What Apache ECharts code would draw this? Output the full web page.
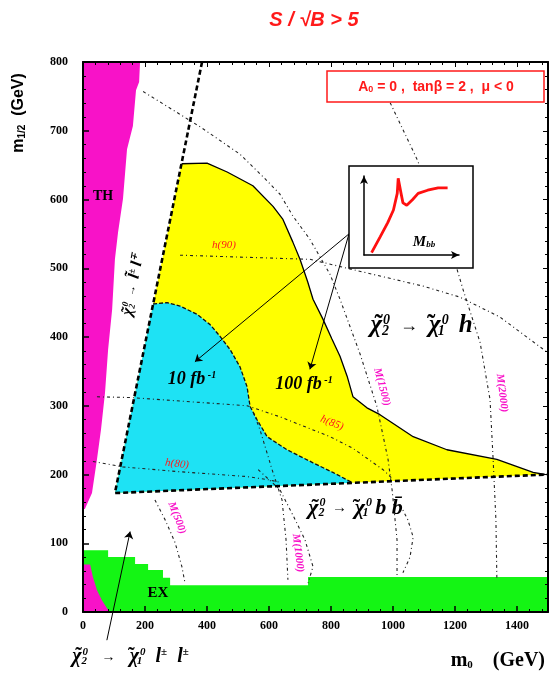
<!DOCTYPE html>
<html>
<head>
<meta charset="utf-8">
<script src="https://cdn.jsdelivr.net/npm/echarts@6/dist/echarts.min.js"></script>
<style>
  html, body { margin: 0; padding: 0; background: #fff; }
  #chart { width: 550px; height: 677px; }
</style>
</head>
<body>
<div id="chart"></div>
<script>
// ---- axes (GeV) ----
const xTickValues = [0, 200, 400, 600, 800, 1000, 1200, 1400];
const yTickValues = [0, 100, 200, 300, 400, 500, 600, 700, 800];
const m0Max = 1500;
const mHalfMax = 800;

// ---- excluded regions (m0, m1/2) ----
const thRegion = [[0,800],[184,800],[181,771],[171,759],[161,707],[142,673],[129,601],[113,552],[103,513],[94,440],[81,382],[71,319],[58,265],[45,222],[29,173],[16,160],[6,150],[0,150]];
const thCorner = [[0,0],[0,69],[23,69],[32,51],[45,32],[61,17],[81,3],[81,0]];
const exRegion = [[0,0],[0,90],[81,90],[81,80],[168,80],[168,70],[210,70],[210,61],[258,61],[258,50],[281,50],[281,39],[726,39],[726,51],[1500,51],[1500,0]];

// ---- 5 sigma reach ----
const reach100 = [[103,173],[318,652],[400,653],[465,640],[548,620],[613,590],[645,571],[677,538],[700,513],[725,480],[742,455],[774,426],[803,397],[829,372],[852,343],[871,313],[916,297],[958,287],[1065,255],[1174,236],[1335,222],[1452,203],[1490,200]];
const reach10 = [[103,173],[226,448],[271,450],[313,445],[368,433],[410,418],[442,401],[474,382],[506,357],[529,328],[539,299],[561,280],[594,255],[658,236],[742,217],[806,203],[870,188]];
const searchEdge = [[384,800],[103,173],[1500,200]];

// ---- light Higgs mass contours ----
const h90 = [[313,519],[732,513],[861,499],[1097,474],[1216,458],[1345,429],[1497,378]];
const h85 = [[45,313],[152,312],[529,300],[635,284],[797,255],[871,238],[968,207],[1000,193]];
const h80 = [[32,219],[129,211],[313,204],[529,197],[603,192],[640,188]];

// ---- kinematic / mass contours ----
const hThreshold = [[194,757],[377,706],[506,666],[581,633],[635,608],[677,576],[732,542],[797,491],[829,455],[894,375],[948,299],[984,222],[997,178],[1013,105],[1013,54]];
const m1500Arc = [[1023,156],[1048,134],[1065,109],[1055,80],[1032,57]];
const m1000Line = [[550,290],[571,265],[610,207],[642,163],[655,105],[661,47]];
const m1000Arc = [[565,207],[635,178],[677,141],[716,105],[742,66],[726,42]];
const m500Line = [[232,163],[265,134],[297,101],[319,66],[329,42]];
const m2000Line = [[977,754],[1077,659],[1168,557],[1226,469],[1281,392],[1313,309],[1323,222],[1332,134],[1335,50]];

// ---- pointer arrows ----
const arrowFrom = [858,550];
const arrowTo10 = [361,364];
const arrowTo100 = [732,353];
const dileptonFrom = [77,-41];
const dileptonTo = [152,117];

// ---- inset: M_bb spectrum sketch ----
const mbbX = [8,17,25,31,35,36,39,41,45,51,57,67,78,88];
const mbbY = [3,23,41,57,78,97,78,66,63,70,78,82,85,85];

const SERIF = 'Liberation Serif';
const SANS = 'Liberation Sans';
const MAGENTA = '#f812c8';
const RED = '#ff1a1a';

function polygon(points, color, z) {
  return {
    type: 'custom', coordinateSystem: 'cartesian2d', xAxisIndex: 0, yAxisIndex: 0,
    z: z, silent: true, clip: true, data: [[0, 0]],
    renderItem: (params, api) => ({
      type: 'polygon',
      shape: { points: points.map(p => api.coord(p)) },
      style: { fill: color, stroke: null }
    })
  };
}
function curve(points, style, z) {
  return {
    type: 'line', xAxisIndex: 0, yAxisIndex: 0, data: points, showSymbol: false, symbol: 'none',
    silent: true, z: z || 3, lineStyle: style
  };
}
function arrow(from, to, clip) {
  return {
    type: 'lines', coordinateSystem: 'cartesian2d', xAxisIndex: 0, yAxisIndex: 0, z: 4,
    silent: true, clip: clip, symbol: ['none', 'arrow'], symbolSize: [0, 7],
    lineStyle: { color: '#000', width: 1, opacity: 1 },
    data: [{ coords: [from, to] }]
  };
}

const contourStyle = { color: '#222', width: 1.1, type: [3, 3, 1, 3] };

// chi-tilde with stacked sub/superscripts: zero-width tokens overlap the next glyph
const chiRich = (size) => {
  const base = { fontFamily: SERIF, fontStyle: 'italic', fontWeight: 'bold', fill: '#000' };
  const small = Math.round(size * 0.55);
  return {
    t: Object.assign({}, base, { fontStyle: 'normal', fontSize: size, width: 1, align: 'left' }),
    c: Object.assign({}, base, { fontSize: size, align: 'left' }),
    sb: Object.assign({}, base, { fontSize: small, verticalAlign: 'bottom', width: 1, align: 'left' }),
    sp: Object.assign({}, base, { fontSize: small, verticalAlign: 'top', align: 'left' }),
    a: Object.assign({}, base, { fontStyle: 'normal', fontSize: Math.round(size * 0.7), align: 'left' })
  };
};
const CHI = (sub) => '{t|\u2009\u02DC}{c|χ}{sb|' + sub + '}{sp|0}';

function text(x, y, str, style, extra) {
  return Object.assign({ type: 'text', x: x, y: y, z: 30,
    style: Object.assign({ text: str, align: 'center', verticalAlign: 'middle' }, style) }, extra || {});
}

const axisFont = { fontFamily: SERIF, fontWeight: 'bold', fontSize: 12, color: '#000', formatter: v => String(v) };
const massLabel = { fontFamily: SERIF, fontStyle: 'italic', fontWeight: 'bold', fontSize: 11, fill: MAGENTA };

const option = {
  animation: false,
  backgroundColor: '#fff',
  grid: [
    { left: 83, right: 2, top: 62, bottom: 65 },
    { left: 364, top: 176, width: 95, height: 79 }
  ],
  xAxis: [
    { type: 'value', gridIndex: 0, min: xTickValues[0], max: m0Max, interval: xTickValues[1] - xTickValues[0], z: 6,
      axisLine: { show: true, onZero: false, lineStyle: { color: '#000', width: 2 } },
      axisTick: { show: true, inside: true, length: 6, lineStyle: { color: '#000', width: 1.5 } },
      minorTick: { show: true, splitNumber: 5, length: 3, lineStyle: { color: '#000' } },
      axisLabel: Object.assign({ margin: 8, showMaxLabel: false }, axisFont),
      splitLine: { show: false } },
    { type: 'value', gridIndex: 0, position: 'top', min: xTickValues[0], max: m0Max, interval: xTickValues[1] - xTickValues[0], z: 6,
      axisLine: { show: true, onZero: false, lineStyle: { color: '#000', width: 2 } },
      axisTick: { show: true, inside: true, length: 5, lineStyle: { color: '#000' } },
      minorTick: { show: true, splitNumber: 5, length: 3, lineStyle: { color: '#000' } },
      axisLabel: { show: false }, splitLine: { show: false } },
    { type: 'value', gridIndex: 1, min: 0, max: 100, z: 40,
      axisLine: { show: true, symbol: ['none', 'arrow'], symbolSize: [6, 8], lineStyle: { color: '#000', width: 1.5 } },
      axisTick: { show: false }, axisLabel: { show: false }, splitLine: { show: false } }
  ],
  yAxis: [
    { type: 'value', gridIndex: 0, min: yTickValues[0], max: mHalfMax, interval: yTickValues[1] - yTickValues[0], z: 6,
      axisLine: { show: true, onZero: false, lineStyle: { color: '#000', width: 2 } },
      axisTick: { show: true, inside: true, length: 6, lineStyle: { color: '#000', width: 1.5 } },
      minorTick: { show: true, splitNumber: 5, length: 3, lineStyle: { color: '#000' } },
      axisLabel: Object.assign({ margin: 15 }, axisFont),
      splitLine: { show: false } },
    { type: 'value', gridIndex: 0, position: 'right', min: yTickValues[0], max: mHalfMax, interval: yTickValues[1] - yTickValues[0], z: 6,
      axisLine: { show: true, onZero: false, lineStyle: { color: '#000', width: 2 } },
      axisTick: { show: true, inside: true, length: 5, lineStyle: { color: '#000' } },
      minorTick: { show: true, splitNumber: 5, length: 3, lineStyle: { color: '#000' } },
      axisLabel: { show: false }, splitLine: { show: false } },
    { type: 'value', gridIndex: 1, min: 0, max: 100, z: 40,
      axisLine: { show: true, symbol: ['none', 'arrow'], symbolSize: [6, 8], lineStyle: { color: '#000', width: 1.5 } },
      axisTick: { show: false }, axisLabel: { show: false }, splitLine: { show: false } }
  ],
  series: [
    polygon(exRegion, '#14f514', 1),
    polygon(thRegion, MAGENTA, 1),
    polygon(thCorner, MAGENTA, 1),
    polygon(reach100, '#ffff00', 1),
    polygon(reach10, '#1ee2f4', 1),
    curve(reach100.slice(1), { color: '#000', width: 1.3 }),
    curve(reach10.slice(1), { color: '#111', width: 1.3, type: [4, 2] }),
    curve(searchEdge, { color: '#000', width: 2.6, type: [5, 3] }, 4),
    curve(h90, contourStyle),
    curve(h85, contourStyle),
    curve(h80, contourStyle),
    curve(hThreshold, contourStyle),
    curve(m1500Arc, contourStyle),
    curve(m1000Line, contourStyle),
    curve(m1000Arc, contourStyle),
    curve(m500Line, contourStyle),
    curve(m2000Line, contourStyle),
    arrow(arrowFrom, arrowTo10, true),
    arrow(arrowFrom, arrowTo100, true),
    arrow(dileptonFrom, dileptonTo, false),
    { type: 'line', xAxisIndex: 2, yAxisIndex: 2, z: 40, silent: true, showSymbol: false, symbol: 'none',
      data: mbbX.map((x, i) => [x, mbbY[i]]),
      lineStyle: { color: '#ff1010', width: 2.8 } }
  ],
  graphic: [
    // title
    text(314, 20, 'S / √B > 5', { fontFamily: SANS, fontStyle: 'italic', fontWeight: 'bold', fontSize: 20, fill: RED }),
    // parameter box
    { type: 'rect', z: 20, shape: { x: 327, y: 71, width: 217, height: 31 }, style: { fill: '#fff', stroke: RED, lineWidth: 1.5 } },
    text(436, 87, '{t|A}{s|0}{t| = 0 ,  tanβ = 2 ,  μ < 0}', {
      rich: {
        t: { fontFamily: SANS, fontWeight: 'bold', fontSize: 14, fill: RED },
        s: { fontFamily: SANS, fontWeight: 'bold', fontSize: 9, fill: RED, verticalAlign: 'bottom' }
      } }),
    // inset frame
    { type: 'rect', z: 20, shape: { x: 349, y: 166, width: 124, height: 102 }, style: { fill: '#fff', stroke: '#000', lineWidth: 1.5 } },
    text(424, 242, '{m|M}{s|bb}', {
      rich: {
        m: { fontFamily: SERIF, fontStyle: 'italic', fontWeight: 'bold', fontSize: 15, fill: '#000' },
        s: { fontFamily: SERIF, fontStyle: 'italic', fontWeight: 'bold', fontSize: 9, fill: '#000', verticalAlign: 'bottom' }
      } }, { z: 50 }),
    // region labels
    text(103, 196, 'TH', { fontFamily: SERIF, fontWeight: 'bold', fontSize: 14, fill: '#000' }),
    text(158, 593, 'EX', { fontFamily: SERIF, fontWeight: 'bold', fontSize: 15, fill: '#000' }),
    text(224, 245, 'h(90)', { fontFamily: SERIF, fontStyle: 'italic', fontSize: 11, fill: RED }),
    text(332, 423, 'h(85)', { fontFamily: SERIF, fontStyle: 'italic', fontSize: 11, fill: RED }, { rotation: -0.38 }),
    text(177, 464, 'h(80)', { fontFamily: SERIF, fontStyle: 'italic', fontSize: 11, fill: RED }, { rotation: -0.12 }),
    text(192, 379, '{l|10 fb}{s| -1}', {
      rich: {
        l: { fontFamily: SERIF, fontStyle: 'italic', fontWeight: 'bold', fontSize: 18, fill: '#000' },
        s: { fontFamily: SERIF, fontStyle: 'italic', fontWeight: 'bold', fontSize: 10, fill: '#000', verticalAlign: 'top' }
      } }),
    text(304, 384, '{l|100 fb}{s| -1}', {
      rich: {
        l: { fontFamily: SERIF, fontStyle: 'italic', fontWeight: 'bold', fontSize: 18, fill: '#000' },
        s: { fontFamily: SERIF, fontStyle: 'italic', fontWeight: 'bold', fontSize: 10, fill: '#000', verticalAlign: 'top' }
      } }),
    // decay channel labels
    text(421, 326, CHI(2) + '   {a|→}   ' + CHI(1) + '   {c|h}', { rich: chiRich(25) }),
    text(355, 508, CHI(2) + '  {a|→}  ' + CHI(1) + ' {c|b b̄}', { rich: chiRich(22) }),
    text(130, 657, CHI(2) + '    {a|→}    ' + CHI(1) + '   {c|l}{sp|±}   {c|l}{sp|±}', { rich: chiRich(20) }),
    text(133, 285, CHI(2) + '  {a|→}  {c|l̃}{sp|±} {c|l}{sp|∓}', { rich: chiRich(16) }, { rotation: 1.38 }),
    // mass contour labels
    text(177, 518, 'M(500)', massLabel, { rotation: -1.2 }),
    text(298, 553, 'M(1000)', massLabel, { rotation: -1.45 }),
    text(382, 387, 'M(1500)', massLabel, { rotation: -1.3 }),
    text(502, 393, 'M(2000)', massLabel, { rotation: -1.45 }),
    // axis titles
    text(19, 113, '{m|m}{s|1/2}{m|  (GeV)}', {
      rich: {
        m: { fontFamily: SANS, fontWeight: 'bold', fontSize: 16, fill: '#000' },
        s: { fontFamily: SANS, fontWeight: 'bold', fontSize: 10, fill: '#000', verticalAlign: 'bottom' }
      } }, { rotation: Math.PI / 2 }),
    text(545, 661, '{m|m}{s|0}{m|    (GeV)}', {
      align: 'right',
      rich: {
        m: { fontFamily: SERIF, fontWeight: 'bold', fontSize: 20, fill: '#000' },
        s: { fontFamily: SERIF, fontWeight: 'bold', fontSize: 11, fill: '#000', verticalAlign: 'bottom' }
      } })
  ]
};

const chart = echarts.init(document.getElementById('chart'), null, { renderer: 'canvas' });
chart.setOption(option);
</script>
</body>
</html>
